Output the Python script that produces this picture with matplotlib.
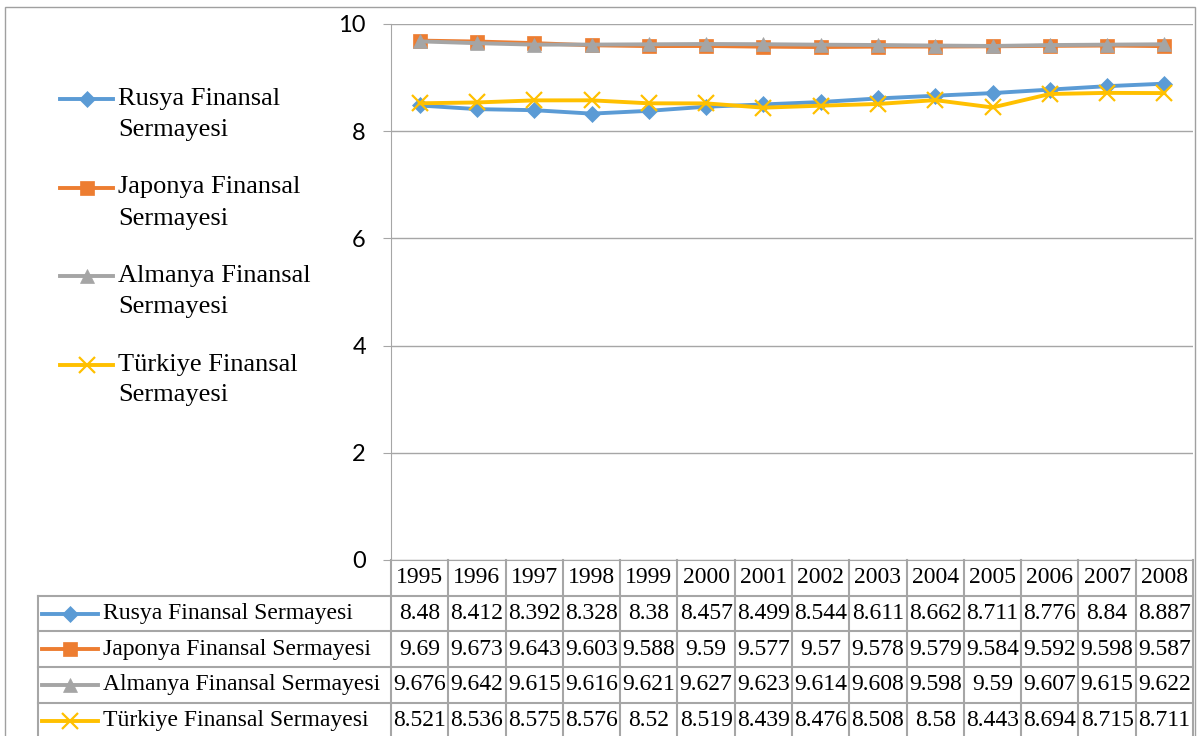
import matplotlib.pyplot as plt
from matplotlib.lines import Line2D
from matplotlib.patches import Rectangle
from matplotlib.transforms import blended_transform_factory

# Finansal sermaye verileri (1995-2008)
years = ["1995", "1996", "1997", "1998", "1999", "2000", "2001",
         "2002", "2003", "2004", "2005", "2006", "2007", "2008"]
rusya = [8.48, 8.412, 8.392, 8.328, 8.38, 8.457, 8.499,
         8.544, 8.611, 8.662, 8.711, 8.776, 8.84, 8.887]
japonya = [9.69, 9.673, 9.643, 9.603, 9.588, 9.59, 9.577,
           9.57, 9.578, 9.579, 9.584, 9.592, 9.598, 9.587]
almanya = [9.676, 9.642, 9.615, 9.616, 9.621, 9.627, 9.623,
           9.614, 9.608, 9.598, 9.59, 9.607, 9.615, 9.622]
turkiye = [8.521, 8.536, 8.575, 8.576, 8.52, 8.519, 8.439,
           8.476, 8.508, 8.58, 8.443, 8.694, 8.715, 8.711]
names = ["Rusya Finansal Sermayesi", "Japonya Finansal Sermayesi",
         "Almanya Finansal Sermayesi", "Türkiye Finansal Sermayesi"]

series = [rusya, japonya, almanya, turkiye]
colors = ["#5B9BD5", "#ED7D31", "#A5A5A5", "#FFC000"]
markers = ["D", "s", "^", "x"]
msizes = [8.5, 10, 10.5, 11]

W, H = 1198, 736
fig = plt.figure(figsize=(W / 100, H / 100), dpi=100)
serif = "Liberation Serif"
grid_c = "#A6A6A6"


def px(x, y):
    # piksel -> figur koordinatlari
    return x / W, 1 - y / H


# dis cerceve
fig.patches.append(Rectangle(px(5, 740), (1195 - 5) / W, (740 - 7) / H,
                             transform=fig.transFigure, fill=False,
                             edgecolor="#A0A0A0", lw=1))

x0, x1, ytop, ybot = 391, 1193, 24, 560
ax = fig.add_axes([x0 / W, 1 - ybot / H, (x1 - x0) / W, (ybot - ytop) / H])
x = list(range(len(years)))
for vals, c, m, ms in zip(series, colors, markers, msizes):
    ax.plot(x, vals, color=c, lw=2.8, marker=m, markersize=ms,
            markeredgewidth=1.6 if m == "x" else 0.5, markeredgecolor=c,
            zorder=3, clip_on=False)

ax.set_xlim(-0.5, len(years) - 0.5)
ax.set_ylim(0, 10)
ax.set_yticks([0, 2, 4, 6, 8, 10])
ax.set_xticks([])
ax.grid(axis="y", color=grid_c, lw=1)
ax.set_axisbelow(True)
for s in ["top", "right"]:
    ax.spines[s].set_visible(False)
ax.spines["left"].set_color(grid_c)
ax.spines["bottom"].set_color(grid_c)
ax.tick_params(axis="y", length=6, color=grid_c, labelsize=17, pad=12)
for lab in ax.get_yticklabels():
    lab.set_fontfamily("Lato")

# veri tablosu: x veri koordinatinda, y eksen oraninda
tr = blended_transform_factory(ax.transData, ax.transAxes)
row_h = 35.7 / (ybot - ytop)
left = -0.5 - (x0 - 38) / ((x1 - x0) / len(years))
n_rows = len(series)
y_bottom = -row_h * (n_rows + 1.1)
tkw = dict(transform=tr, clip_on=False, color=grid_c, lw=1.5)

for i in range(len(years) + 1):
    ax.add_line(Line2D([i - 0.5, i - 0.5], [0, y_bottom], **tkw))
ax.add_line(Line2D([left, left], [-row_h, y_bottom], **tkw))
for r in range(1, n_rows + 1):
    ax.add_line(Line2D([left, len(years) - 0.5], [-row_h * r, -row_h * r], **tkw))

for i, yr in enumerate(years):
    ax.text(i, -row_h * 0.5, yr, transform=tr, ha="center", va="center",
            fontsize=17, family=serif)

for r, (vals, name, c, m, ms) in enumerate(zip(series, names, colors, markers, msizes)):
    yc = -row_h * (r + 1.5)
    for i, v in enumerate(vals):
        ax.text(i, yc, f"{v:g}", transform=tr, ha="center", va="center",
                fontsize=17, family=serif)
    hx0 = left + 0.07
    hx1 = left + 1.05
    ax.add_line(Line2D([hx0, hx1], [yc, yc], transform=tr, clip_on=False,
                       color=c, lw=2.8))
    ax.add_line(Line2D([(hx0 + hx1) / 2], [yc], transform=tr, clip_on=False,
                       color=c, marker=m, markersize=ms, markeredgecolor=c,
                       markeredgewidth=1.6 if m == "x" else 0.5))
    ax.text(left + 1.14, yc, name, transform=tr, ha="left", va="center",
            fontsize=17, family=serif)

# sol taraftaki lejant
for k, (name, c, m, ms) in enumerate(zip(names, colors, markers, msizes)):
    yl = 99 + k * 88.5
    fig.add_artist(Line2D([60 / W, 113 / W], [1 - yl / H, 1 - yl / H],
                          transform=fig.transFigure, color=c, lw=2.8))
    fig.add_artist(Line2D([87 / W], [1 - yl / H], transform=fig.transFigure,
                          color=c, marker=m, markersize=ms, markeredgecolor=c,
                          markeredgewidth=1.6 if m == "x" else 0.5))
    parts = name.rsplit(" ", 1)
    fig.text(118 / W, 1 - yl / H, parts[0], ha="left", va="center",
             fontsize=19, family=serif)
    fig.text(118 / W, 1 - (yl + 31) / H, parts[1], ha="left", va="center",
             fontsize=19, family=serif)

fig.savefig("out.png", dpi=100)
